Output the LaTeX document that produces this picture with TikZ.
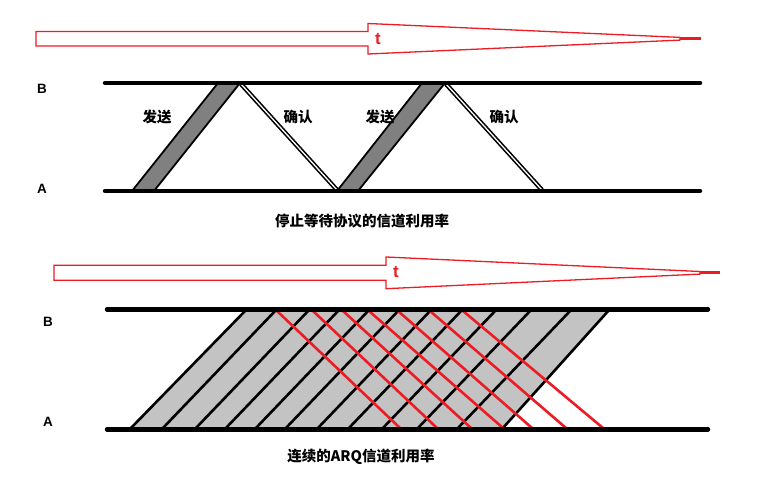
\documentclass[tikz,border=0pt]{standalone}
\usepackage{fontspec}
\setmainfont{Liberation Sans}
\newfontfamily\cjk{Noto Sans CJK SC}
\definecolor{pred}{RGB}{237,28,36}
\definecolor{sendgray}{RGB}{128,128,128}
\definecolor{lgray}{RGB}{195,195,195}
\tikzset{
  axisline/.style={line width=4.5pt, line cap=round},
  timearrow/.style={draw=pred, line width=1.3pt, fill=white},
  timetip/.style={draw=pred, line width=2.8pt},
  tlabel/.style={text=pred, font=\fontsize{17}{18}\selectfont\bfseries, inner sep=0pt},
  ablabel/.style={font=\fontsize{13.5}{14}\selectfont\bfseries, inner sep=0pt},
  cjklabel/.style={font=\cjk\fontsize{14.5}{16}\selectfont\bfseries, inner sep=0pt},
  sendband/.style={fill=sendgray, draw=black, line width=1.8pt, line join=miter},
  ackline/.style={draw=black, line width=1.6pt, double=white, double distance=1.3pt},
  frame/.style={black, line width=2.6pt},
  redline/.style={pred, line width=2.6pt}
}
\begin{document}
\begin{tikzpicture}[x=1pt,y=-1pt]
\useasboundingbox (0,0) rectangle (758,478);

% ---------- top time arrow ----------
\draw[timearrow] (36,31.5) -- (368,31.5) -- (368,23.5) -- (680,37.4) -- (680,40.1) -- (368,54) -- (368,46) -- (36,46) -- cycle;
\coordinate (t1a) at (680,38.7);
\coordinate (t1b) at (701,38.7);
\draw[timetip] (t1a) -- (t1b);
\node[tlabel] (t1) at (378,39) {t};

% ---------- stop-and-wait diagram ----------
\coordinate (B1l) at (105,83);  \coordinate (B1r) at (700,83);
\coordinate (A1l) at (105,191); \coordinate (A1r) at (700,191);

\draw[sendband] (132,191) -- (154,191) -- (240,83) -- (218,83) -- cycle;
\draw[sendband] (337,191) -- (358,191) -- (445,83) -- (422,83) -- cycle;
\coordinate (ack1s) at (241,84); \coordinate (ack1e) at (337,190);
\coordinate (ack2s) at (446,84); \coordinate (ack2e) at (542,190);
\draw[ackline] (ack1s) -- (ack1e);
\draw[ackline] (ack2s) -- (ack2e);

\draw[axisline] (B1l) -- (B1r);
\draw[axisline] (A1l) -- (A1r);

\node[ablabel] (lb1) at (42,89) {B};
\node[ablabel] (la1) at (42,189) {A};

\node[cjklabel] (s1) at (157,117) {发送};
\node[cjklabel] (c1) at (298,117) {确认};
\node[cjklabel] (s2) at (380,117) {发送};
\node[cjklabel] (c2) at (504,117) {确认};

\node[cjklabel] (cap1) at (362,221) {停止等待协议的信道利用率};

% ---------- bottom time arrow ----------
\draw[timearrow] (54,265.3) -- (386,265.3) -- (386,257) -- (700,271.5) -- (700,274.1) -- (386,288.7) -- (386,280.3) -- (54,280.3) -- cycle;
\coordinate (t2a) at (700,272.8);
\coordinate (t2b) at (720,272.8);
\draw[timetip] (t2a) -- (t2b);
\node[tlabel] (t2) at (396,272.5) {t};

% ---------- continuous ARQ diagram ----------
\fill[lgray] (130,429) -- (247,309) -- (610,309) -- (502,429) -- cycle;

\foreach \b/\t in {130/247,162/277,195/310,225/340,255/370,285/400,317/432,348/463,382/497,417/532,457/572,502/610}{
  \draw[frame] (\b,429) -- (\t,309);
}

\foreach \t/\b in {277/400,313/437,343/471,369/503,398/532,430/566,463/603}{
  \draw[redline] (\t,311) -- (\b,428);
}

\coordinate (B2l) at (107,309.3); \coordinate (B2r) at (708,309.3);
\coordinate (A2l) at (107,429.3); \coordinate (A2r) at (708,429.3);
\draw[axisline] (B2l) -- (B2r);
\draw[axisline] (A2l) -- (A2r);

\node[ablabel] (lb2) at (48,322) {B};
\node[ablabel] (la2) at (48,422) {A};

\node[cjklabel] (cap2) at (361,457) {连续的ARQ信道利用率};
\end{tikzpicture}
\end{document}
